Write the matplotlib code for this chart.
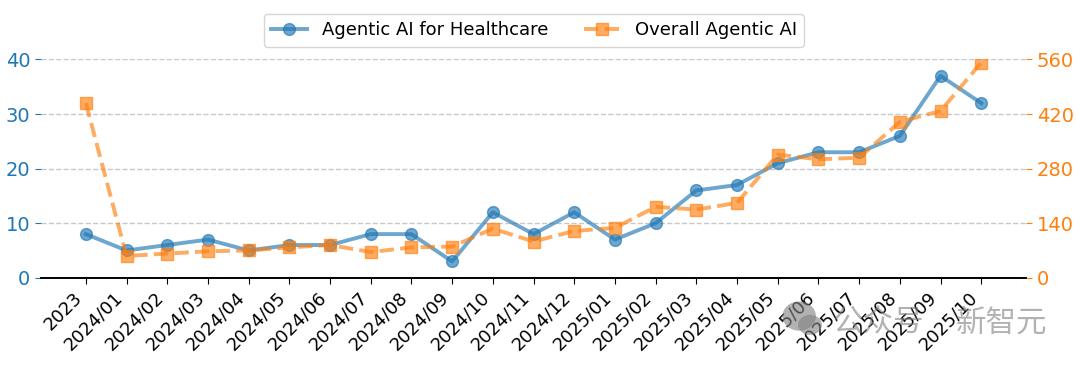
import matplotlib
matplotlib.use('Agg')
import matplotlib.pyplot as plt
from matplotlib.patches import Ellipse

months = ['2023', '2024/01', '2024/02', '2024/03', '2024/04', '2024/05', '2024/06', '2024/07',
          '2024/08', '2024/09', '2024/10', '2024/11', '2024/12', '2025/01', '2025/02', '2025/03',
          '2025/04', '2025/05', '2025/06', '2025/07', '2025/08', '2025/09', '2025/10']
healthcare = [8, 5, 6, 7, 5, 6, 6, 8, 8, 3, 12, 8, 12, 7, 10, 16, 17, 21, 23, 23, 26, 37, 32]
overall = [448, 56, 62, 68, 70, 78, 84, 66, 78, 80, 126, 93, 120, 128, 182, 175, 192, 316, 304, 308, 400, 428, 552]

blue = '#1f77b4'
orange = '#ff7f0e'
cjk = ['Noto Sans CJK SC', 'DejaVu Sans']

fig, ax = plt.subplots(figsize=(10.8, 3.65), dpi=100)
ax2 = ax.twinx()

l1, = ax.plot(months, healthcare, color=blue, marker='o', lw=2.8, ms=8.5, alpha=0.65, label='Agentic AI for Healthcare')
l2, = ax2.plot(months, overall, color=orange, marker='s', ls='--', lw=2.8, ms=8.5, alpha=0.65, label='Overall Agentic AI')

ax.set_ylim(0, 40)
ax.set_yticks([0, 10, 20, 30, 40])
ax2.set_ylim(0, 560)
ax2.set_yticks([0, 140, 280, 420, 560])
ax.tick_params(axis='y', colors=blue, labelsize=14, length=4.3)
ax2.tick_params(axis='y', colors=orange, labelsize=14, length=4.3)
ax.tick_params(axis='x', labelsize=13, length=4.3)
plt.setp(ax.get_xticklabels(), rotation=45, ha='right')
ax.grid(axis='y', ls='--', color='#c8c8c8', lw=1)
ax.set_axisbelow(True)

for a in (ax, ax2):
    a.spines['top'].set_visible(False)
    a.spines['left'].set_visible(False)
    a.spines['right'].set_visible(False)
    a.spines['bottom'].set_linewidth(1.2)

fig.legend(handles=[l1, l2], loc='upper center', ncol=2, fontsize=13, bbox_to_anchor=(0.4944, 0.986))
fig.subplots_adjust(left=0.038, right=0.95, top=0.837, bottom=0.239)

# watermark
fig.add_artist(Ellipse((0.74, 0.134), 0.031, 0.08, color='gray', alpha=0.6, lw=0))
fig.add_artist(Ellipse((0.75, 0.11), 0.022, 0.055, color='gray', alpha=0.6, lw=0))
fig.text(0.771, 0.115, '公众号', fontsize=22, color='gray', alpha=0.6, family=cjk, va='center')
fig.text(0.885, 0.115, '新智元', fontsize=22, color='gray', alpha=0.6, family=cjk, va='center')

fig.savefig('out.png')
